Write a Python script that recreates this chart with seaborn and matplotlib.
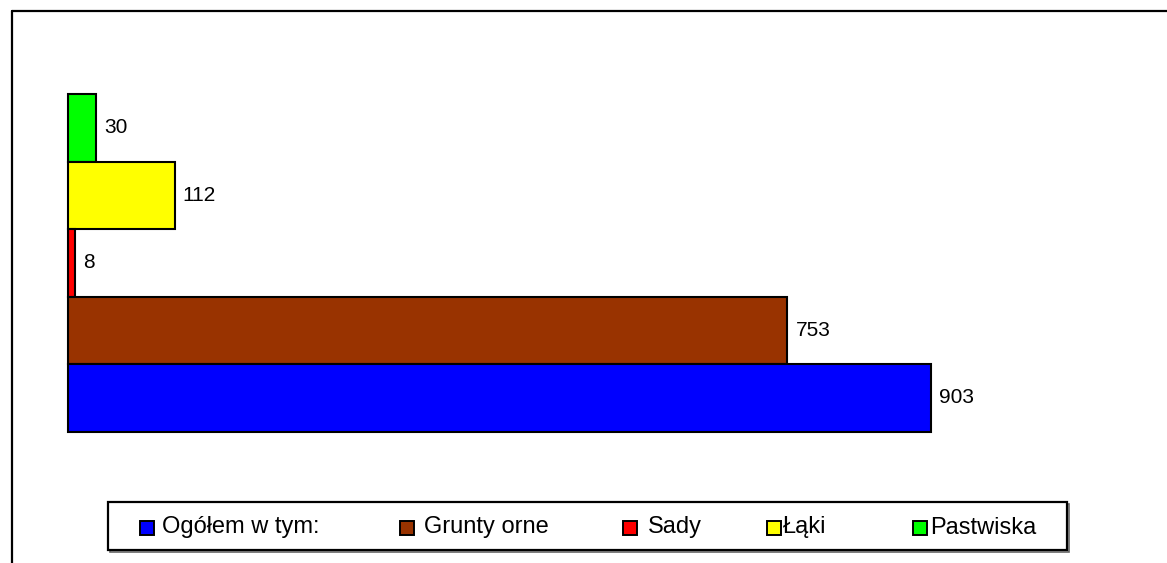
import matplotlib
matplotlib.use("Agg")
import matplotlib.pyplot as plt
from matplotlib.patches import Rectangle
from matplotlib.lines import Line2D
import seaborn as sns
import pandas as pd

# ---- data ----
series = ["Ogółem w tym:", "Grunty orne", "Sady", "Łąki", "Pastwiska"]
values = [903, 753, 8, 112, 30]
colors = ["#0000FF", "#993300", "#FF0000", "#FFFF00", "#00FF00"]
category = ["Użytki rolne"]

sns.set_style("white")
plt.rcParams["font.family"] = ["Liberation Sans", "DejaVu Sans"]

W, H = 1167, 563
fig = plt.figure(figsize=(W / 100, H / 100), dpi=100)
ax = fig.add_axes([0, 0, 1, 1])

df = pd.DataFrame({"cat": category * len(series), "series": series, "value": values})
order = series[::-1]  # top bar = last series
pal = dict(zip(series, colors))

sns.barplot(data=df, x="value", y="cat", hue="series", hue_order=order,
            palette=pal, saturation=1, width=1.0, orient="h",
            edgecolor="black", linewidth=1.5, legend=False, ax=ax, errorbar=None)

for cont in ax.containers:
    ax.bar_label(cont, fmt="%d", padding=5.8, fontsize=15, color="black")

# pixel mapping: x=0 at 67.7px, 0.9557 px/unit; bars span 94..431.7 px
ax.set_xlim(-67.7 / 0.9557, (W - 67.7) / 0.9557)
ax.set_ylim(0.5 + (H - 431.7) / 337.7, -0.5 - 94 / 337.7)
ax.axis("off")

def fx(px):
    return px / W

def fy(py):
    return 1 - py / H

# outer chart frame (left and top edges visible)
fig.add_artist(Line2D([fx(11.7), fx(11.7)], [fy(11), fy(H + 5)], color="black", lw=1.6))
fig.add_artist(Line2D([fx(11.7), fx(W + 5)], [fy(11), fy(11)], color="black", lw=1.6))

# legend box
lx0, lx1, ly0, ly1 = 108, 1067, 502, 550
fig.add_artist(Rectangle((fx(lx0 + 2), fy(ly1 + 2)), fx(lx1 - lx0), (ly1 - ly0) / H,
                         facecolor="none", edgecolor="#666666", lw=1.2))
fig.add_artist(Rectangle((fx(lx0), fy(ly1)), fx(lx1 - lx0), (ly1 - ly0) / H,
                         facecolor="white", edgecolor="black", lw=1.6))

sq_x = [140, 400, 623, 767, 913]
txt_x = [162, 424, 648, 783, 930]
sq = 14
cy = 527.5
for s, c, sx, tx in zip(series, colors, sq_x, txt_x):
    fig.add_artist(Rectangle((fx(sx), fy(cy + sq / 2)), fx(sq), sq / H,
                             facecolor=c, edgecolor="black", lw=1.4))
    fig.text(fx(tx), fy(cy), s, fontsize=17, va="center", ha="left", color="black")

fig.savefig("out.png", dpi=100)
